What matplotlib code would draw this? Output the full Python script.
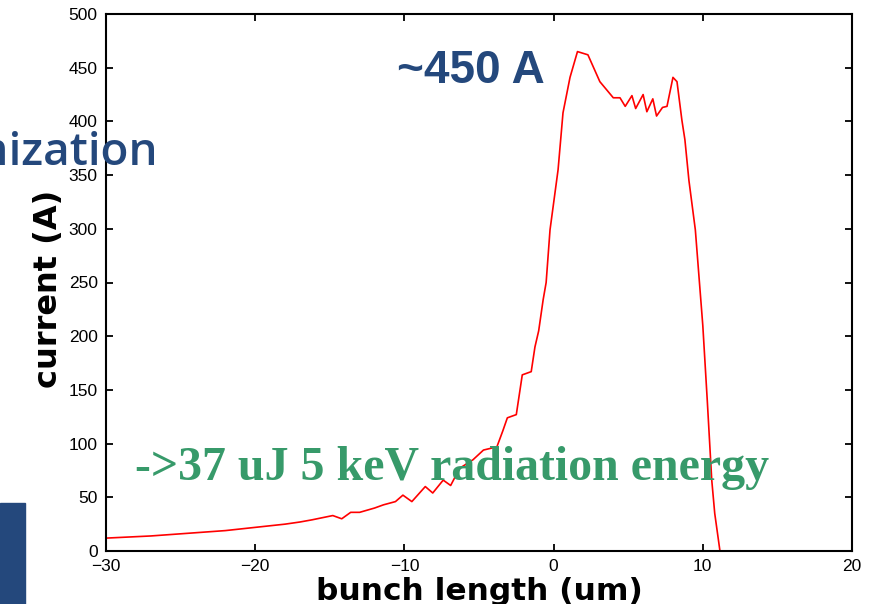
import numpy as np
import matplotlib
matplotlib.use("Agg")
import matplotlib.pyplot as plt
from matplotlib.patches import Rectangle

# bunch length (um) and current (A)
pos_um = [-30, -27, -24, -22, -20, -18, -17, -16.2, -15.5, -14.8, -14.2, -13.6, -13, -12, -11.4,
          -10.6, -10.1, -9.5, -8.6, -8.1, -7.4, -6.9, -6.3, -5.4, -4.7, -3.8, -3.4,
          -3.1, -2.5, -2.1, -1.5, -1.25, -1.0, -0.7, -0.5, -0.24, 0.3, 0.63, 1.1,
          1.6, 2.3, 3.1, 4.0, 4.45, 4.8, 5.25, 5.5, 6.0, 6.25, 6.65, 6.9, 7.3, 7.6,
          8.0, 8.27, 8.6, 8.8, 9.07, 9.5, 10.0, 10.3, 10.6, 10.8, 11.15]
current_A = [12, 14, 17, 19, 22, 25, 27, 29, 31, 33, 30, 36, 36, 40, 43,
             46, 52, 46, 60, 54, 66, 61, 77, 85, 94, 97, 112,
             124, 127, 164, 167, 190, 205, 234, 250, 299, 355, 408, 441,
             465, 462, 437, 422, 422, 414, 424, 412, 425, 409, 421, 405, 413, 414,
             441, 437, 401, 383, 345, 299, 210, 140, 66, 35, 0]

xticks = [-30, -20, -10, 0, 10, 20]
yticks = [0, 50, 100, 150, 200, 250, 300, 350, 400, 450, 500]

blue = "#24487c"
green = "#379a6a"

fig = plt.figure(figsize=(8.75, 6.04), dpi=100)
ax = fig.add_axes([106 / 875, 53 / 604, 746 / 875, 537 / 604])

ax.plot(pos_um, current_A, color="red", lw=1.2)
ax.set_xlim(-30, 20)
ax.set_ylim(0, 500)
ax.set_xticks(xticks)
ax.set_yticks(yticks)
ax.tick_params(direction="in", top=True, right=True, length=5, width=1.3,
               labelsize=12.5, pad=6)
for lab in ax.get_xticklabels() + ax.get_yticklabels():
    lab.set_fontfamily("Liberation Sans")
for s in ax.spines.values():
    s.set_linewidth(1.5)

ax.set_xlabel("bunch length (um)", fontsize=22.5, fontweight="bold")
ax.xaxis.label.set_va("baseline")
ax.xaxis.set_label_coords(0.5, -0.091)
ax.set_ylabel("current (A)", fontsize=23, fontweight="bold")
ax.yaxis.label.set_va("center")
ax.yaxis.set_label_coords(-0.077, 0.489)

# slide overlays
fig.text(397 / 875, (604 - 83) / 604, "~450 A", color=blue, fontsize=33,
         fontweight="bold", family="Liberation Sans", va="baseline", ha="left")
fig.text(158 / 875, (604 - 165) / 604, "Optimization", color=blue, fontsize=33,
         fontweight="semibold", family="Open Sans", va="baseline", ha="right")
fig.text(135 / 875, (604 - 480) / 604, "->37 uJ 5 keV radiation energy",
         color=green, fontsize=34.5, fontweight="bold", family="Liberation Serif",
         va="baseline", ha="left")
fig.patches.append(Rectangle((0, 0), 25 / 875, 101 / 604, transform=fig.transFigure,
                             color=blue, zorder=5))

fig.savefig("out.png", dpi=100)
